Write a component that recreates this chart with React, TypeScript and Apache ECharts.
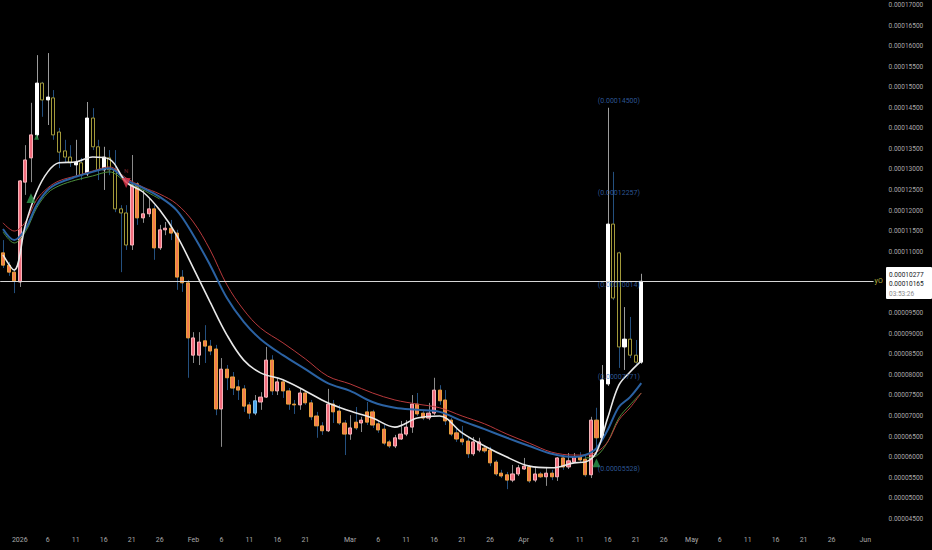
import React, { useEffect, useRef } from 'react';
import * as echarts from 'echarts';

// ---------- data (prices in units of 1e-5) ----------
const startDate = '2025-12-29';
const dayCount = 156;

const opens = [
  10.97, 10.67, 10.50, 10.26, 12.69, 13.28, 13.84, 15.10, 14.69, 14.74,
  13.91, 13.45, 13.30, 13.11, 13.16, 12.89, 14.25, 13.55, 12.99, 13.28,
  12.99, 12.04, 11.94, 11.16, 12.65, 11.82, 11.92, 12.04, 11.09, 11.53,
  11.57, 11.45, 10.38, 10.24, 8.48, 8.48, 8.83, 8.70, 8.63, 7.17,
  8.14, 7.95, 7.71, 7.66, 7.27, 7.07, 7.34, 7.46, 8.36, 7.61,
  7.83, 7.61, 7.29, 7.27, 7.56, 7.32, 7.00, 6.76, 6.64, 7.29,
  7.12, 6.83, 6.56, 6.71, 6.90, 6.85, 7.10, 6.81, 6.68, 6.37,
  6.27, 6.44, 6.56, 6.73, 7.29, 7.07, 6.95, 7.07, 7.63, 7.39,
  6.90, 6.59, 6.44, 6.39, 6.08, 6.17, 6.22, 6.17, 5.88, 5.61,
  5.57, 5.44, 5.59, 5.71, 5.76, 5.44, 5.59, 5.52, 5.61, 5.52,
  5.98, 5.76, 5.88, 6.00, 5.95, 5.57, 6.90, 6.47, 7.78, 11.67,
  10.97, 8.68, 8.87, 8.48, 8.31,
];
const closes = [
  10.67, 10.50, 10.29, 12.72, 13.23, 13.84, 15.10, 14.69, 14.76, 13.84,
  13.42, 13.30, 13.16, 13.18, 12.86, 14.25, 13.55, 12.99, 13.30, 12.99,
  12.04, 11.94, 11.16, 12.62, 11.82, 11.92, 12.04, 11.09, 11.53, 11.57,
  11.45, 10.38, 10.24, 8.90, 8.90, 8.80, 8.70, 8.58, 7.17, 8.14,
  7.93, 7.68, 7.63, 7.24, 7.07, 7.37, 7.46, 8.36, 7.61, 7.83,
  7.61, 7.29, 7.27, 7.56, 7.32, 6.98, 6.76, 6.64, 7.29, 7.10,
  6.83, 6.56, 6.71, 6.85, 6.83, 7.10, 6.78, 6.66, 6.34, 6.27,
  6.47, 6.56, 6.73, 7.29, 7.05, 6.95, 7.07, 7.63, 7.37, 6.88,
  6.56, 6.44, 6.37, 6.08, 6.37, 6.37, 6.15, 5.86, 5.59, 5.54,
  5.44, 5.59, 5.74, 5.78, 5.42, 5.59, 5.52, 5.61, 5.52, 5.98,
  5.76, 5.91, 6.00, 5.93, 5.57, 6.90, 6.47, 7.88, 11.67, 9.87,
  8.68, 8.87, 8.48, 8.31, 10.277,
];
const highs = [
  11.28, 10.75, 10.55, 12.74, 13.59, 14.62, 15.78, 15.13, 15.83, 14.93,
  14.01, 13.72, 13.59, 13.72, 13.28, 14.64, 14.49, 13.72, 13.55, 13.47,
  13.47, 12.13, 12.13, 13.35, 12.69, 12.50, 12.30, 12.13, 11.65, 11.72,
  11.77, 11.53, 10.55, 10.31, 9.04, 9.04, 9.21, 8.85, 8.73, 8.41,
  8.24, 8.07, 7.88, 7.75, 7.34, 7.51, 7.58, 8.68, 8.48, 7.93,
  7.88, 7.68, 7.39, 7.68, 7.58, 7.39, 7.10, 6.85, 7.66, 7.39,
  7.27, 6.90, 7.02, 7.22, 6.98, 7.34, 7.15, 6.90, 6.78, 6.42,
  6.54, 6.88, 6.90, 7.51, 7.56, 7.15, 7.32, 7.93, 7.75, 7.63,
  6.95, 6.71, 6.76, 6.47, 6.49, 6.47, 6.29, 6.25, 5.93, 5.69,
  5.64, 5.81, 5.81, 5.98, 5.81, 5.76, 5.64, 5.76, 5.69, 6.00,
  6.05, 6.10, 6.10, 6.12, 6.03, 6.98, 7.20, 8.24, 14.50, 12.94,
  11.00, 9.65, 9.41, 8.85, 10.46,
];
const lows = [
  10.60, 10.41, 9.99, 10.14, 12.38, 12.69, 13.76, 14.28, 14.08, 13.72,
  13.03, 13.18, 13.06, 12.86, 12.74, 12.84, 13.47, 12.74, 12.50, 12.86,
  11.96, 10.50, 11.04, 11.04, 11.65, 11.70, 11.84, 10.80, 11.04, 11.40,
  11.28, 10.07, 10.02, 7.93, 8.29, 8.24, 8.29, 8.48, 7.02, 6.25,
  7.63, 7.51, 7.39, 7.10, 6.93, 7.02, 7.15, 7.44, 7.51, 7.51,
  7.44, 7.15, 7.05, 7.15, 7.27, 6.90, 6.47, 6.54, 6.61, 6.83,
  6.78, 6.05, 6.42, 6.66, 6.61, 6.78, 6.71, 6.59, 6.29, 6.22,
  6.22, 6.42, 6.51, 6.59, 7.00, 6.90, 6.90, 7.02, 7.27, 6.78,
  6.51, 6.37, 6.29, 5.98, 6.03, 6.12, 6.10, 5.78, 5.54, 5.49,
  5.22, 5.39, 5.54, 5.69, 5.37, 5.39, 5.49, 5.30, 5.44, 5.42,
  5.69, 5.71, 5.86, 5.88, 5.52, 5.49, 6.05, 6.42, 7.73, 9.82,
  8.17, 8.12, 8.41, 8.27, 8.27,
];
// p = pink up, o = orange down, w = white up, y = hollow yellow down, b = blue
const candleStyles =
  'ooopppwywy' +
  'yyywywyywy' +
  'yyypoppopp' +
  'ooooppooop' +
  'ooooobppop' +
  'ooopoooopo' +
  'oopopooooo' +
  'ppppooppoo' +
  'oooopp' + 'oooo' +
  'opppopopop' +
  'oppoopowwy' +
  'ywyyw';

const lineDates = [
  '2025-12-29', '2025-12-31', '2026-01-02', '2026-01-04', '2026-01-06', '2026-01-08',
  '2026-01-11', '2026-01-14', '2026-01-17', '2026-01-20', '2026-01-23', '2026-01-26',
  '2026-01-29', '2026-02-01', '2026-02-04', '2026-02-07', '2026-02-10', '2026-02-13',
  '2026-02-17', '2026-02-21', '2026-02-25', '2026-03-01', '2026-03-05', '2026-03-09',
  '2026-03-13', '2026-03-17', '2026-03-21', '2026-03-25', '2026-03-29', '2026-04-02',
  '2026-04-06', '2026-04-10', '2026-04-12', '2026-04-14', '2026-04-16', '2026-04-18',
  '2026-04-20', '2026-04-22',
];
const whiteLine = [
  10.92, 10.55, 11.65, 12.45, 12.94, 13.16, 13.18, 13.30, 13.25, 12.69, 12.45, 12.01,
  11.40, 10.60, 9.77, 8.97, 8.36, 8.05, 7.88, 7.61, 7.32, 7.12, 6.95, 6.73,
  6.95, 7.00, 6.59, 6.27, 6.00, 5.78, 5.74, 5.86, 5.88, 6.12, 6.95, 7.75, 8.07, 8.34,
];
const blueLine = [
  11.55, 11.28, 11.55, 12.13, 12.50, 12.67, 12.82, 12.94, 13.03, 12.74, 12.55, 12.33,
  12.01, 11.40, 10.67, 9.87, 9.29, 8.87, 8.48, 8.14, 7.80, 7.61, 7.34, 7.20,
  7.15, 7.10, 6.88, 6.68, 6.47, 6.27, 6.08, 6.00, 6.05, 6.22, 6.66, 7.22, 7.46, 7.80,
];
const redLine = [
  11.70, 11.50, 11.72, 12.26, 12.55, 12.72, 12.84, 12.96, 13.06, 12.79, 12.57, 12.40,
  12.16, 11.72, 11.04, 10.19, 9.58, 9.14, 8.78, 8.39, 7.97, 7.78, 7.56, 7.39,
  7.29, 7.20, 7.00, 6.81, 6.56, 6.34, 6.12, 6.05, 6.05, 6.12, 6.37, 6.90, 7.20, 7.56,
];
const greenLine = [
  11.48, 11.21, 11.48, 12.06, 12.43, 12.60, 12.74, 12.84, 12.94, 12.69, 12.50, 12.28,
  null, null, null, null, null, null, null, null, null, null, null, null,
  null, null, null, null, null, null, null, null, 5.98, 6.03, 6.37, 6.95, 7.27, 7.56,
];

const xTickLabels: [string, string][] = [
  ['2026-01-01', '2026'], ['2026-01-06', '6'], ['2026-01-11', '11'], ['2026-01-16', '16'],
  ['2026-01-21', '21'], ['2026-01-26', '26'],
  ['2026-02-01', 'Feb'], ['2026-02-06', '6'], ['2026-02-11', '11'], ['2026-02-16', '16'],
  ['2026-02-21', '21'],
  ['2026-03-01', 'Mar'], ['2026-03-06', '6'], ['2026-03-11', '11'], ['2026-03-16', '16'],
  ['2026-03-21', '21'], ['2026-03-26', '26'],
  ['2026-04-01', 'Apr'], ['2026-04-06', '6'], ['2026-04-11', '11'], ['2026-04-16', '16'],
  ['2026-04-21', '21'], ['2026-04-26', '26'],
  ['2026-05-01', 'May'], ['2026-05-06', '6'], ['2026-05-11', '11'], ['2026-05-16', '16'],
  ['2026-05-21', '21'], ['2026-05-26', '26'],
  ['2026-06-01', 'Jun'],
];
// axis ticks hidden behind the last-price box
const hiddenYTicks = [10.0, 10.5];

const lastPrice = 10.277;
const secondPrice = 10.165;
const countdown = '03:53:26';
const fibLevels = [14.5, 12.257, 10.014, 7.771, 5.528];
const fibLabelDate = '2026-04-18';

const upSignals: [string, number, number][] = [
  ['2026-01-03', 12.30, 9],
  ['2026-01-04', 13.79, 5],
  ['2026-04-14', 5.86, 8],
];
const downSignals: [string, number][] = [['2026-01-20', 12.67]];

// ---------- styling ----------
const palette: Record<string, { fill: string; border: string; wick: string }> = {
  p: { fill: '#f26d7d', border: '#f5b3b9', wick: '#8a8a8a' },
  o: { fill: '#f47b4f', border: '#e8a23c', wick: '#24507f' },
  w: { fill: '#ffffff', border: '#ffffff', wick: '#9c9c9c' },
  y: { fill: '#000000', border: '#a39a3a', wick: '#24507f' },
  b: { fill: '#4aa3e6', border: '#7cc0f0', wick: '#8a8a8a' },
};

const fmt = (v: number) => (v * 1e-5).toFixed(8);

export default function App() {
  const ref = useRef<HTMLDivElement>(null);

  useEffect(() => {
    document.body.style.margin = '0';
    document.body.style.background = '#000';
    if (!ref.current) return;
    const chart = echarts.init(ref.current, undefined, { renderer: 'svg' });

    const categories: string[] = [];
    const base = Date.parse(startDate + 'T00:00:00Z');
    for (let k = 0; k < dayCount; k++) {
      categories.push(new Date(base + k * 86400000).toISOString().slice(0, 10));
    }
    const tickMap = new Map(xTickLabels);

    const bodyData = opens.map((o, i) => {
      const c = closes[i];
      const s = palette[candleStyles[i]] || palette.o;
      return {
        value: [o, c, Math.min(o, c), Math.max(o, c)],
        itemStyle: {
          color: s.fill,
          color0: s.fill,
          borderColor: s.border,
          borderColor0: s.border,
          borderWidth: 1,
        },
      };
    });
    const wickData = lows.map((l, i) => [categories[i], l, highs[i], i]);

    const mkLine = (vals: (number | null)[], color: string, width: number, z: number) => ({
      type: 'line',
      data: lineDates.map((d, i) => [d, vals[i]]),
      smooth: 0.35,
      symbol: 'none',
      showSymbol: false,
      connectNulls: false,
      lineStyle: { color, width },
      z,
      silent: true,
    });

    const gridW = dayCount * 5.6;
    const txt = (t: string, y: number, fill: string) => ({
      type: 'text',
      x: 889,
      y,
      z: 101,
      style: { text: t, fill, fontSize: 6.5, fontFamily: 'Roboto', verticalAlign: 'top' },
    });

    chart.setOption({
      animation: false,
      backgroundColor: '#000000',
      textStyle: { fontFamily: 'Roboto, "DejaVu Sans", sans-serif' },
      grid: { left: 0, top: 5, width: gridW, bottom: 31.25 },
      xAxis: {
        type: 'category',
        data: categories,
        boundaryGap: true,
        axisLine: { show: false },
        axisTick: { show: false },
        splitLine: { show: false },
        axisLabel: {
          interval: 0,
          formatter: (v: string) => tickMap.get(v) ?? '',
          color: '#a9a9a9',
          fontSize: 7,
          margin: 18,
        },
      },
      yAxis: {
        type: 'value',
        position: 'right',
        min: 4.5,
        max: 17,
        interval: 0.5,
        axisLine: { show: false },
        axisTick: { show: false },
        splitLine: { show: false },
        axisLabel: {
          formatter: (v: number) => (hiddenYTicks.some((h) => Math.abs(h - v) < 1e-6) ? '' : fmt(v)),
          color: '#a9a9a9',
          fontSize: 6.5,
          margin: 15,
        },
      },
      series: [
        {
          type: 'custom',
          name: 'wick',
          data: wickData,
          encode: { x: 0, y: [1, 2] },
          z: 2,
          silent: true,
          renderItem: (params: any, api: any) => {
            const x = api.value(0);
            const lo = api.coord([x, api.value(1)]);
            const hi = api.coord([x, api.value(2)]);
            const s = palette[candleStyles[api.value(3)]] || palette.o;
            const px = Math.round(lo[0]) + 0.5;
            return {
              type: 'line',
              shape: { x1: px, y1: lo[1], x2: px, y2: hi[1] },
              style: { stroke: s.wick, lineWidth: 1 },
            };
          },
        },
        {
          type: 'candlestick',
          name: 'body',
          data: bodyData,
          barWidth: 3.6,
          z: 3,
          silent: true,
          markLine: {
            silent: true,
            symbol: 'none',
            data: [{ yAxis: lastPrice }],
            lineStyle: { color: '#d6d6d6', width: 1, type: 'solid' },
            label: { show: true, position: 'end', formatter: 'yO', color: '#b5b03e', fontSize: 7, distance: 1 },
          },
        },
        mkLine(greenLine, '#4d8f3c', 1, 4),
        mkLine(redLine, '#b8393c', 1, 4),
        mkLine(blueLine, '#2b62a3', 2, 5),
        mkLine(whiteLine, '#e8e8e8', 1.6, 6),
        {
          type: 'scatter',
          data: fibLevels.map((v) => [fibLabelDate, v]),
          symbolSize: 1,
          itemStyle: { color: 'rgba(0,0,0,0)' },
          silent: true,
          z: 7,
          label: {
            show: true,
            position: 'top',
            distance: 3,
            formatter: (p: any) => '(' + fmt(p.value[1]) + ')',
            color: '#3a6cb8',
            fontSize: 7,
          },
        },
        {
          type: 'scatter',
          data: upSignals.map((s) => ({ value: [s[0], s[1]], symbolSize: [s[2], s[2] * 1.1] })),
          symbol: 'triangle',
          itemStyle: { color: '#2e9a4c' },
          silent: true,
          z: 7,
        },
        {
          type: 'scatter',
          data: downSignals.map((s) => [s[0], s[1]]),
          symbol: 'triangle',
          symbolRotate: 180,
          symbolSize: [9, 10],
          itemStyle: { color: '#e0344a' },
          silent: true,
          z: 7,
          label: { show: true, position: 'top', distance: 4, formatter: 'N', color: '#9a2a35', fontSize: 6 },
        },
      ],
      graphic: [
        {
          type: 'rect',
          z: 100,
          shape: { x: 886, y: 267, width: 46, height: 32, r: 1 },
          style: { fill: '#ffffff' },
        },
        txt(fmt(lastPrice), 271, '#131722'),
        txt(fmt(secondPrice), 280.5, '#131722'),
        txt(countdown, 290, '#8a8a8a'),
      ],
    });

    return () => chart.dispose();
  }, []);

  return <div ref={ref} style={{ width: 932, height: 550, background: '#000' }} />;
}
